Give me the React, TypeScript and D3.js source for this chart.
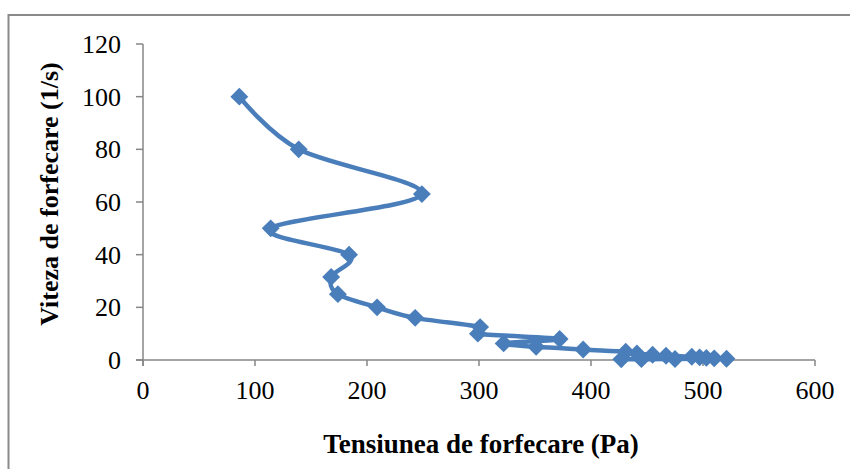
import React from "react";
import * as d3 from "d3";

const shearRate = [100, 80, 63, 50, 40, 31.5, 25, 20, 16, 12.5, 10, 8, 6.3, 5, 4, 3.15, 2.5, 2, 1.6, 1.25, 1, 0.8, 0.63, 0.5, 0.4, 0.315, 0.25];
const shearStress = [86, 139, 249, 114, 184, 168, 174, 209, 243, 301, 299, 372, 322, 351, 393, 431, 441, 455, 467, 490, 497, 503, 510, 521, 475, 445, 427];
const xTicks = [0, 100, 200, 300, 400, 500, 600];
const yTicks = [0, 20, 40, 60, 80, 100, 120];
const xTitle = "Tensiunea de forfecare (Pa)";
const yTitle = "Viteza de forfecare (1/s)";

export default function App() {
  const W = 850, H = 469;
  const x = d3.scaleLinear().domain([0, 600]).range([143, 815]);
  const y = d3.scaleLinear().domain([0, 120]).range([360, 44]);
  const pts: [number, number][] = shearStress.map((s, i) => [x(s), y(shearRate[i])]);
  const line = d3.line().curve(d3.curveCardinal.tension(0))(pts) || "";
  const marker = d3.symbol(d3.symbolSquare, 160)() || "";
  const color = "#4a7ebb";
  const axisColor = "#868686";
  const font = "'Liberation Serif', 'Times New Roman', serif";
  return (
    <svg width={W} height={H} style={{ position: "absolute", left: 0, top: 0, display: "block" }}>
      <rect x={0} y={0} width={W} height={H} fill="#fff" />
      <rect x={8.5} y={15} width={W + 10} height={H + 10} fill="none" stroke="#8a8a8a" strokeWidth={2} />
      <line x1={x(0)} x2={x(0)} y1={y(120)} y2={y(0) + 6} stroke={axisColor} strokeWidth={1.5} />
      <line x1={x(0) - 7} x2={x(600)} y1={y(0)} y2={y(0)} stroke={axisColor} strokeWidth={1.5} />
      {yTicks.map((t) => (
        <g key={"y" + t}>
          <line x1={x(0) - 7} x2={x(0)} y1={y(t)} y2={y(t)} stroke={axisColor} strokeWidth={1.5} />
          <text x={121} y={y(t)} dy="0.35em" textAnchor="end" fontFamily={font} fontSize={26} fill="#000">{t}</text>
        </g>
      ))}
      {xTicks.map((t) => (
        <g key={"x" + t}>
          <line x1={x(t)} x2={x(t)} y1={y(0)} y2={y(0) + 6} stroke={axisColor} strokeWidth={1.5} />
          <text x={x(t)} y={399} textAnchor="middle" fontFamily={font} fontSize={26} fill="#000">{t}</text>
        </g>
      ))}
      <text x={481} y={453} textAnchor="middle" fontFamily={font} fontSize={27} fontWeight="bold" fill="#000">{xTitle}</text>
      <text transform={`translate(49,194) rotate(-90)`} textAnchor="middle" dy="0.35em" fontFamily={font} fontSize={26} fontWeight="bold" fill="#000">{yTitle}</text>
      <path d={line} fill="none" stroke={color} strokeWidth={4.5} strokeLinejoin="round" />
      {pts.map((p, i) => (
        <path key={i} d={marker} transform={`translate(${p[0]},${p[1]}) rotate(45)`} fill={color} />
      ))}
    </svg>
  );
}
